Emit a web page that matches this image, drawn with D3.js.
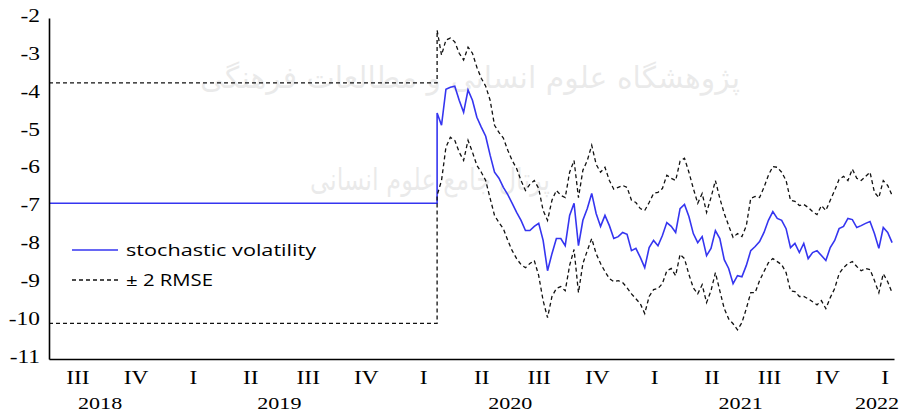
<!DOCTYPE html>
<html>
<head>
<meta charset="utf-8">
<script src="https://cdn.jsdelivr.net/npm/d3@7"></script>
<style>
  body { margin: 0; background: #fff; }
</style>
</head>
<body>
<svg width="901" height="415"></svg>
<script>
// axis labels
var quarterLabels = ["III", "IV", "I", "II", "III", "IV", "I", "II", "III", "IV", "I", "II", "III", "IV", "I"];
var quarterDates = ["2018-08-15", "2018-11-15", "2019-02-14", "2019-05-16", "2019-08-15", "2019-11-15",
                    "2020-02-14", "2020-05-16", "2020-08-15", "2020-11-15", "2021-02-14", "2021-05-16",
                    "2021-08-15", "2021-11-15", "2022-02-14"];
var yearLabels = ["2018", "2019", "2020", "2021", "2022"];
var yearDates = ["2018-09-20", "2019-07-01", "2020-07-01", "2021-07-01", "2022-02-02"];
var yTicks = [-2, -3, -4, -5, -6, -7, -8, -9, -10, -11];

// flat part before the estimation starts
var startDate = "2018-07-01", endDate = "2022-03-01", jumpDate = "2020-03-07";
var flatSv = -6.89, flatUpper = -3.71, flatLower = -10.06;

// weekly values from jumpDate on
var sv = [-4.51, -4.83, -3.88, -3.83, -3.80, -4.17, -4.49, -3.90, -4.17, -4.62,
          -4.88, -5.12, -5.62, -6.07, -6.23, -6.47, -6.66, -6.89, -7.13, -7.34,
          -7.61, -7.61, -7.50, -7.42, -7.87, -8.67, -8.22, -7.82, -7.82, -8.01,
          -7.21, -6.89, -8.01, -7.34, -7.03, -6.63, -7.16, -7.50, -7.21, -7.48,
          -7.82, -7.77, -7.66, -7.71, -8.14, -8.08, -8.32, -8.59, -8.06, -7.87,
          -8.01, -7.74, -7.40, -7.50, -7.66, -7.03, -6.92, -7.24, -7.69, -7.93,
          -7.77, -8.27, -8.08, -7.61, -7.82, -8.38, -8.61, -9.01, -8.80, -8.83,
          -8.53, -8.14, -8.03, -7.90, -7.66, -7.34, -7.11, -7.29, -7.34, -7.56,
          -8.06, -7.95, -8.19, -7.95, -8.35, -8.19, -8.14, -8.27, -8.40, -8.06,
          -7.87, -7.56, -7.50, -7.29, -7.32, -7.53, -7.48, -7.42, -7.37, -7.69,
          -8.08, -7.53, -7.66, -7.93];
var upper = [-2.32, -2.98, -2.58, -2.53, -2.63, -2.93, -3.11, -2.77, -2.93, -3.30,
             -3.59, -3.80, -4.17, -4.83, -5.02, -5.17, -5.49, -5.76, -5.97, -6.29,
             -6.55, -6.39, -6.29, -6.50, -7.08, -7.34, -6.81, -6.55, -6.68, -6.74,
             -6.07, -5.76, -6.74, -6.02, -5.76, -5.36, -5.86, -6.07, -5.94, -6.29,
             -6.52, -6.47, -6.42, -6.47, -6.81, -6.87, -7.03, -7.08, -6.87, -6.63,
             -6.60, -6.50, -6.15, -6.23, -6.29, -5.78, -5.70, -6.07, -6.50, -6.89,
             -6.63, -7.13, -6.74, -6.29, -6.76, -7.16, -7.48, -7.79, -7.69, -7.77,
             -7.48, -6.76, -6.71, -6.74, -6.47, -6.15, -5.92, -5.94, -6.07, -6.29,
             -6.81, -6.84, -6.95, -6.92, -7.00, -7.11, -7.19, -6.95, -7.08, -6.81,
             -6.55, -6.26, -6.18, -6.29, -5.99, -6.23, -6.29, -6.18, -6.07, -6.60,
             -6.74, -6.29, -6.42, -6.68];
var lower = [-6.68, -6.29, -5.41, -5.15, -5.23, -5.54, -5.76, -5.23, -5.54, -5.89,
             -6.07, -6.29, -6.76, -7.21, -7.40, -7.56, -7.87, -8.14, -8.35, -8.51,
             -8.59, -8.48, -8.40, -8.80, -9.46, -9.91, -9.35, -9.14, -9.09, -9.20,
             -8.53, -8.11, -9.25, -8.48, -8.14, -7.82, -8.22, -8.48, -8.69, -8.88,
             -8.96, -8.93, -8.98, -9.12, -9.28, -9.41, -9.54, -9.80, -9.35, -9.17,
             -9.14, -9.01, -8.67, -8.61, -8.80, -8.24, -8.35, -8.77, -9.12, -9.28,
             -9.04, -9.51, -9.20, -8.72, -9.20, -9.67, -9.94, -10.07, -10.23, -10.04,
             -9.67, -9.25, -9.25, -8.93, -8.69, -8.46, -8.35, -8.43, -8.51, -8.72,
             -9.20, -9.22, -9.35, -9.35, -9.41, -9.49, -9.57, -9.46, -9.67, -9.38,
             -9.14, -8.75, -8.59, -8.48, -8.43, -8.56, -8.67, -8.61, -8.64, -8.93,
             -9.25, -8.75, -8.96, -9.25];

var parse = d3.timeParse("%Y-%m-%d");
var svg = d3.select("svg");

var x = d3.scaleTime().domain([parse(startDate), parse(endDate)]).range([49, 894]);
var y = d3.scaleLinear().domain([-11, -2]).range([359, 18]);

// faint watermark from the scanned page
var wm = svg.append("g")
  .attr("fill", "#000")
  .attr("opacity", 0.08)
  .style("font-family", "DejaVu Sans")
  .style("font-size", "30px")
  .attr("text-anchor", "middle");
wm.append("text")
  .attr("x", 470).attr("y", 88)
  .attr("textLength", 540)
  .attr("lengthAdjust", "spacingAndGlyphs")
  .text("پژوهشگاه علوم انسانی و مطالعات فرهنگی");
wm.append("text")
  .attr("x", 430).attr("y", 190)
  .attr("textLength", 240)
  .attr("lengthAdjust", "spacingAndGlyphs")
  .text("پرتال جامع علوم انسانی");

function makeRows(flat, vals) {
  var jd = parse(jumpDate);
  var rows = [{date: parse(startDate), v: flat}, {date: jd, v: flat}];
  vals.forEach(function(v, i) {
    rows.push({date: d3.timeDay.offset(jd, 7 * i), v: v});
  });
  return rows;
}

var line = d3.line()
  .x(function(d) { return x(d.date); })
  .y(function(d) { return y(d.v); });

svg.append("path")
  .datum(makeRows(flatSv, sv))
  .attr("fill", "none")
  .attr("stroke", "#3535f0")
  .attr("stroke-width", 1.6)
  .attr("d", line);

[makeRows(flatUpper, upper), makeRows(flatLower, lower)].forEach(function(rows) {
  svg.append("path")
    .datum(rows)
    .attr("fill", "none")
    .attr("stroke", "#111")
    .attr("stroke-width", 1.3)
    .attr("stroke-dasharray", "4,3")
    .attr("d", line);
});

// y axis
var gy = svg.append("g")
  .attr("transform", "translate(49,0)")
  .call(d3.axisLeft(y).tickValues(yTicks).tickSize(0).tickSizeOuter(0).tickFormat(function(d) { return d; }));
gy.select(".domain").attr("stroke", "#000").attr("stroke-width", 1.6);
gy.selectAll("text")
  .attr("x", 0)
  .attr("dy", "0.3em")
  .attr("transform", "translate(-9,-2) scale(1.3,1)")
  .attr("fill", "#000")
  .style("font-family", "Liberation Serif")
  .style("font-size", "18px");

// x axis with quarter labels
var gx = svg.append("g")
  .attr("transform", "translate(0," + y(-11) + ")")
  .call(d3.axisBottom(x).tickValues(quarterDates.map(parse)).tickSize(0).tickSizeOuter(0)
    .tickFormat(function(d, i) { return quarterLabels[i]; }));
gx.select(".domain").attr("stroke", "#000").attr("stroke-width", 1.6);
gx.selectAll("text")
  .attr("y", 0)
  .attr("dy", null)
  .attr("transform", "translate(0,25) scale(1.3,1)")
  .attr("fill", "#000")
  .style("font-family", "Liberation Serif")
  .style("font-size", "18px");

// year labels
svg.append("g").selectAll("text")
  .data(yearLabels)
  .enter().append("text")
  .attr("transform", function(d, i) { return "translate(" + x(parse(yearDates[i])) + "," + (y(-11) + 50) + ") scale(1.3,1)"; })
  .attr("text-anchor", "middle")
  .style("font-family", "Liberation Serif")
  .style("font-size", "17px")
  .text(function(d) { return d; });

// legend
var legend = svg.append("g").style("font-family", "Open Sans").style("font-size", "16px");
legend.append("line")
  .attr("x1", 72).attr("x2", 118).attr("y1", 250).attr("y2", 250)
  .attr("stroke", "#3535f0").attr("stroke-width", 1.6);
legend.append("text")
  .attr("x", 126).attr("y", 256)
  .attr("textLength", 190).attr("lengthAdjust", "spacingAndGlyphs")
  .text("stochastic volatility");
legend.append("line")
  .attr("x1", 72).attr("x2", 118).attr("y1", 280).attr("y2", 280)
  .attr("stroke", "#111").attr("stroke-width", 1.3).attr("stroke-dasharray", "4,3");
legend.append("text")
  .attr("x", 126).attr("y", 286)
  .attr("textLength", 87).attr("lengthAdjust", "spacingAndGlyphs")
  .text("± 2 RMSE");
</script>
</body>
</html>
